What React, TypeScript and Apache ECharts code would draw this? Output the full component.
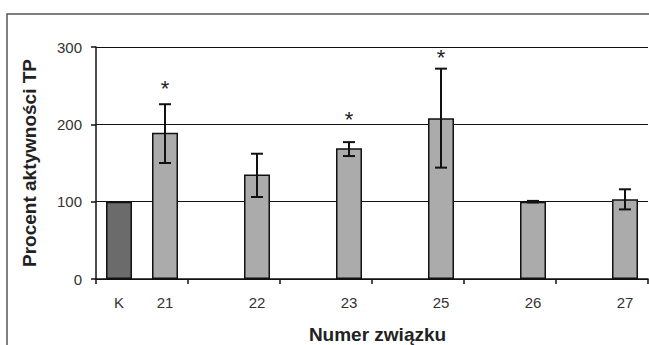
import React, { useEffect, useRef } from "react";
import * as echarts from "echarts";

// ---- data ----
const categories = ["K", "21", "22", "23", "25", "26", "27"];
const groups = ["K/21", "22", "23", "25", "26", "27"];
const means = [100, 189, 135, 169, 208, 100, 103];
const errLow = [null, 150, 106, 159, 144, 99, 90];
const errHigh = [null, 226, 162, 177, 272, 101, 116];
const starCategories = ["21", "23", "25"];
const starValues = [253, 213, 293];
const yTicks = [0, 100, 200, 300];

export default function App() {
  const ref = useRef<HTMLDivElement>(null);
  useEffect(() => {
    document.body.style.margin = "0";
    const chart = echarts.init(ref.current!, null, { renderer: "svg" });
    const slotOf = (i: number) => (i === 0 ? 0 : 2 * i - 1);
    const nSlots = slotOf(categories.length - 1) + 1;
    const slotLabels: string[] = new Array(nSlots).fill("");
    const barData: any[] = new Array(nSlots).fill(null);
    categories.forEach((c, i) => {
      slotLabels[slotOf(i)] = c;
      barData[slotOf(i)] = {
        value: means[i],
        itemStyle: { color: i === 0 ? "#6b6b6b" : "#ababab" },
      };
    });
    const errData: any[] = [];
    categories.forEach((c, i) => {
      if (errLow[i] != null && errHigh[i] != null) errData.push([slotOf(i), errLow[i], errHigh[i]]);
    });
    const starData = starCategories.map((c, k) => [slotOf(categories.indexOf(c)), starValues[k]]);

    chart.setOption({
      animation: false,
      backgroundColor: "#ffffff",
      textStyle: { fontFamily: "Liberation Sans, Arial, sans-serif" },
      grid: { left: 96, right: 1, top: 47, bottom: 66, containLabel: false, outerBoundsMode: "none" },
      graphic: [
        {
          type: "rect",
          shape: { x: 7, y: 14, width: 800, height: 500 },
          style: { fill: "none", stroke: "#555", lineWidth: 1.5 },
          z: -10,
        },
      ],
      xAxis: [
        {
          type: "category",
          data: slotLabels,
          position: "bottom",
          axisLine: { show: false },
          axisTick: { show: false },
          axisLabel: { fontSize: 15, color: "#333", margin: 16, interval: 0 },
          name: "Numer związku",
          nameLocation: "middle",
          nameGap: 46,
          nameTextStyle: { fontSize: 19, fontWeight: "bold", color: "#222", padding: [0, 0, 0, 11] },
        },
        {
          type: "category",
          data: groups,
          position: "bottom",
          axisLine: { show: true, lineStyle: { color: "#111", width: 1.5 } },
          axisTick: { show: true, length: 5, lineStyle: { color: "#111", width: 1.5 } },
          axisLabel: { show: false },
        },
      ],
      yAxis: {
        type: "value",
        min: yTicks[0],
        max: yTicks[yTicks.length - 1],
        interval: 100,
        axisLine: { show: true, lineStyle: { color: "#111", width: 1.5 } },
        axisTick: { show: true, length: 5, lineStyle: { color: "#111", width: 1.5 } },
        axisLabel: { fontSize: 15, color: "#333", margin: 14 },
        splitLine: { show: true, lineStyle: { color: "#111", width: 1.2 } },
        name: "Procent aktywności TP",
        nameLocation: "middle",
        nameGap: 57,
        nameTextStyle: { fontSize: 19, fontWeight: "bold", color: "#222" },
      },
      series: [
        {
          type: "bar",
          xAxisIndex: 0,
          data: barData,
          barWidth: 26,
          itemStyle: { borderColor: "#111", borderWidth: 1.5 },
        },
        {
          type: "custom",
          xAxisIndex: 0,
          data: errData,
          z: 5,
          renderItem: (params: any, api: any) => {
            const x = api.value(0);
            const lo = api.coord([x, api.value(1)]);
            const hi = api.coord([x, api.value(2)]);
            const w = 6;
            const st = { stroke: "#111", lineWidth: 2 };
            return {
              type: "group",
              children: [
                { type: "line", shape: { x1: lo[0], y1: lo[1], x2: hi[0], y2: hi[1] }, style: st },
                { type: "line", shape: { x1: lo[0] - w, y1: lo[1], x2: lo[0] + w, y2: lo[1] }, style: st },
                { type: "line", shape: { x1: hi[0] - w, y1: hi[1], x2: hi[0] + w, y2: hi[1] }, style: st },
              ],
            };
          },
        },
        {
          type: "custom",
          xAxisIndex: 0,
          data: starData,
          z: 6,
          renderItem: (params: any, api: any) => {
            const p = api.coord([api.value(0), api.value(1)]);
            return {
              type: "text",
              x: p[0],
              y: p[1] + 5,
              style: {
                text: "*",
                fontSize: 22,
                fontFamily: "Liberation Sans, Arial, sans-serif",
                fill: "#222",
                align: "center",
                verticalAlign: "middle",
              },
            };
          },
        },
      ],
    });
    return () => chart.dispose();
  }, []);
  return <div ref={ref} style={{ width: 649, height: 345 }} />;
}
